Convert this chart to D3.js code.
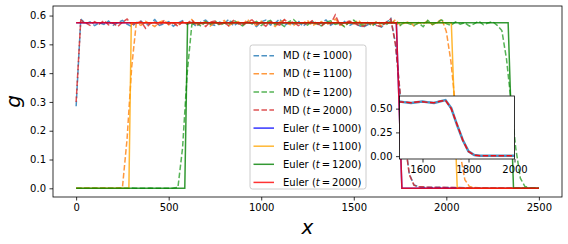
<!DOCTYPE html>
<html><head><meta charset="utf-8">
<script src="https://cdn.jsdelivr.net/npm/d3@7"></script>
<style>
html,body{margin:0;padding:0;background:#fff;}
svg text{font-family:"DejaVu Sans",sans-serif;}
</style></head>
<body><svg id="c" width="568" height="244"></svg>
<script>
// ---- data ----
const mdX = d3.range(0, 2525, 25); // MD grid positions x = 0..2500
const md1000 = [
0.285,0.588,0.571,0.578,0.565,0.575,0.569,0.581,0.566,0.576,
0.583,0.570,0.562,0.575,0.581,0.568,0.573,0.586,0.566,0.571,
0.579,0.563,0.574,0.582,0.569,0.577,0.561,0.578,0.584,0.570,
0.566,0.577,0.572,0.587,0.564,0.575,0.569,0.581,0.573,0.562,
0.578,0.584,0.567,0.574,0.588,0.565,0.576,0.570,0.582,0.563,
0.575,0.579,0.568,0.574,0.585,0.566,0.577,0.571,0.580,0.564,
0.574,0.566,0.560,0.568,0.574,0.566,0.560,0.575,0.590,0.505,
0.330,0.170,0.050,0.012,0.005,0.004,0.004,0.003,0.004,0.003,
0.003,0.003,0.002,0.003,0.002,0.002,0.002,0.001,0.002,0.001,
0.001,0.001,0.001,0.001,0.001,0.001,0.001,0.000,0.001,0.000,
0.000];
const md1100 = [
0.000,0.000,0.000,0.001,0.000,0.000,0.001,0.000,0.000,0.001,
0.002,0.170,0.420,0.574,0.566,0.580,0.571,0.562,0.577,0.583,
0.568,0.574,0.565,0.579,0.571,0.586,0.567,0.573,0.580,0.564,
0.576,0.570,0.583,0.565,0.574,0.579,0.568,0.587,0.572,0.566,
0.580,0.569,0.575,0.562,0.578,0.584,0.570,0.566,0.577,0.573,
0.583,0.565,0.572,0.579,0.568,0.575,0.588,0.569,0.563,0.577,
0.571,0.584,0.566,0.575,0.569,0.580,0.563,0.576,0.572,0.585,
0.567,0.574,0.579,0.564,0.576,0.571,0.582,0.568,0.575,0.588,
0.545,0.440,0.280,0.120,0.030,0.006,0.003,0.002,0.002,0.001,
0.001,0.001,0.001,0.000,0.001,0.000,0.000,0.000,0.000,0.000,
0.000];
const md1200 = [
0.000,0.000,0.000,0.000,0.001,0.000,0.000,0.000,0.000,0.000,
0.000,0.000,0.001,0.000,0.000,0.000,0.001,0.000,0.000,0.000,
0.000,0.001,0.003,0.140,0.400,0.568,0.575,0.563,0.579,0.570,
0.582,0.566,0.574,0.569,0.585,0.572,0.564,0.578,0.571,0.580,
0.565,0.577,0.583,0.568,0.573,0.562,0.579,0.586,0.570,0.575,
0.567,0.580,0.571,0.564,0.577,0.582,0.569,0.574,0.561,0.578,
0.584,0.570,0.566,0.576,0.563,0.579,0.572,0.568,0.581,0.574,
0.565,0.578,0.571,0.566,0.574,0.561,0.583,0.569,0.576,0.585,
0.572,0.566,0.578,0.570,0.575,0.563,0.571,0.581,0.568,0.574,
0.579,0.566,0.548,0.450,0.300,0.140,0.035,0.006,0.002,0.001,
0.000];
const md2000 = [
0.300,0.584,0.575,0.566,0.579,0.570,0.583,0.568,0.574,0.562,
0.577,0.588,0.569,0.573,0.580,0.556,0.572,0.578,0.565,0.582,
0.570,0.575,0.563,0.579,0.572,0.585,0.567,0.574,0.562,0.578,
0.581,0.569,0.576,0.564,0.583,0.572,0.566,0.579,0.585,0.570,
0.574,0.563,0.580,0.571,0.567,0.586,0.573,0.578,0.565,0.575,
0.568,0.582,0.574,0.563,0.579,0.571,0.602,0.567,0.576,0.581,
0.573,0.567,0.562,0.570,0.573,0.565,0.562,0.577,0.588,0.500,
0.335,0.168,0.048,0.011,0.005,0.005,0.004,0.004,0.003,0.004,
0.003,0.003,0.003,0.002,0.002,0.002,0.001,0.002,0.001,0.001,
0.001,0.001,0.001,0.000,0.001,0.000,0.001,0.000,0.000,0.000,
0.000];
const euler1000X = [0, 1730, 1760, 2500];
const euler1000G = [0.575, 0.575, 0, 0];
const euler1100X = [0, 285, 298, 2027, 2059, 2500];
const euler1100G = [0, 0, 0.575, 0.575, 0, 0];
const euler1200X = [0, 587, 602, 2334, 2363, 2500];
const euler1200G = [0, 0, 0.575, 0.575, 0, 0];
const euler2000X = [0, 1730, 1760, 2500];
const euler2000G = [0.575, 0.575, 0, 0];
const xTicks = [0, 500, 1000, 1500, 2000, 2500];
const yTicks = [0, 0.1, 0.2, 0.3, 0.4, 0.5, 0.6];
const insetXTicks = [1600, 1800, 2000];
const insetYTicks = [0, 0.25, 0.5];
const legendTimes = ["1000", "1100", "1200", "2000"];

// ---- drawing ----
const svg = d3.select("#c");
const L = 53, R = 562, T = 6, B = 197;
const x = d3.scaleLinear().domain([-125, 2625]).range([L, R]);
const y = d3.scaleLinear().domain([-0.0302, 0.6332]).range([B, T]);

const defs = svg.append("defs");
defs.append("clipPath").attr("id", "mainclip").append("rect")
  .attr("x", L).attr("y", T).attr("width", R - L).attr("height", B - T);

const pts = (xs, gs) => xs.map((v, i) => [v, gs[i]]);
const lineMain = d3.line().x(d => x(d[0])).y(d => y(d[1]));

const mdSeries = [
  {d: md1000, c: "#1f77b4"}, {d: md1100, c: "#ff7f0e"},
  {d: md1200, c: "#2ca02c"}, {d: md2000, c: "#d62728"}];
const euSeries = [
  {x: euler1000X, g: euler1000G, c: "#0000ff"},
  {x: euler1100X, g: euler1100G, c: "#ffa500"},
  {x: euler1200X, g: euler1200G, c: "#008000"},
  {x: euler2000X, g: euler2000G, c: "#ff0000"}];

const plot = svg.append("g").attr("clip-path", "url(#mainclip)");
mdSeries.forEach(s => {
  plot.append("path").datum(pts(mdX, s.d)).attr("d", lineMain)
    .attr("fill", "none").attr("stroke", s.c).attr("stroke-opacity", 0.8)
    .attr("stroke-width", 1.5).attr("stroke-dasharray", "5.55,2.4");
});
euSeries.forEach(s => {
  plot.append("path").datum(pts(s.x, s.g)).attr("d", lineMain)
    .attr("fill", "none").attr("stroke", s.c).attr("stroke-opacity", 0.8)
    .attr("stroke-width", 1.5);
});

// axes
function styleAxis(g) {
  g.select(".domain").remove();
  g.selectAll(".tick line").attr("stroke", "#000").attr("stroke-width", 0.8);
  g.selectAll(".tick text").attr("fill", "#000").style("font-size", "10px")
    .style("font-family", "DejaVu Sans");
}
svg.append("g").attr("transform", `translate(0,${B})`)
  .call(d3.axisBottom(x).tickValues(xTicks).tickSize(3.5).tickPadding(3.5).tickFormat(d3.format("d")))
  .call(styleAxis);
svg.append("g").attr("transform", `translate(${L},0)`)
  .call(d3.axisLeft(y).tickValues(yTicks).tickSize(3.5).tickPadding(3.5).tickFormat(d3.format(".1f")))
  .call(styleAxis);
svg.append("rect").attr("x", L).attr("y", T).attr("width", R - L).attr("height", B - T)
  .attr("fill", "none").attr("stroke", "#000").attr("stroke-width", 0.8);

svg.append("text").attr("x", (L + R) / 2).attr("y", 234).attr("text-anchor", "middle")
  .style("font-size", "20px").style("font-style", "italic").text("x");
svg.append("text").attr("transform", `translate(20,${(T + B) / 2}) rotate(-90)`)
  .attr("text-anchor", "middle").style("font-size", "20px").style("font-style", "italic").text("g");

// legend
const lg = svg.append("g");
lg.append("rect").attr("x", 250).attr("y", 45).attr("width", 116).attr("height", 144)
  .attr("rx", 2.5).attr("fill", "#fff").attr("fill-opacity", 0.8)
  .attr("stroke", "#cccccc").attr("stroke-width", 1);
const entries = [];
mdSeries.forEach((s, i) => entries.push({lab: "MD", t: legendTimes[i], c: s.c, dash: true}));
euSeries.forEach((s, i) => entries.push({lab: "Euler", t: legendTimes[i], c: s.c, dash: false}));
entries.forEach((e, i) => {
  const cy = 55.7 + i * 18.1;
  lg.append("line").attr("x1", 253.5).attr("x2", 274).attr("y1", cy).attr("y2", cy)
    .attr("stroke", e.c).attr("stroke-opacity", 0.8).attr("stroke-width", 1.5)
    .attr("stroke-dasharray", e.dash ? "5.55,2.4" : null);
  const t = lg.append("text").attr("x", 283).attr("y", cy).attr("dy", "0.36em")
    .style("font-size", "10px").attr("fill", "#000");
  t.append("tspan").text(e.lab + " (");
  t.append("tspan").style("font-style", "italic").text("t");
  t.append("tspan").text("\u2009=\u2009" + e.t + ")");
});

// inset
const iL = 399.5, iR = 514.5, iT = 96, iB = 159;
const xi = d3.scaleLinear().domain([1500, 2000]).range([iL, iR]);
const yi = d3.scaleLinear().domain([-0.03, 0.633]).range([iB, iT]);
defs.append("clipPath").attr("id", "insetclip").append("rect")
  .attr("x", iL).attr("y", iT).attr("width", iR - iL).attr("height", iB - iT);
svg.append("rect").attr("x", iL).attr("y", iT).attr("width", iR - iL).attr("height", iB - iT)
  .attr("fill", "#fff");
const lineInset = d3.line().x(d => xi(d[0])).y(d => yi(d[1]));
const ip = svg.append("g").attr("clip-path", "url(#insetclip)");
ip.append("path").datum(pts(mdX, md1000)).attr("d", lineInset).attr("fill", "none")
  .attr("stroke", "#1f77b4").attr("stroke-opacity", 0.8).attr("stroke-width", 2.5);
ip.append("path").datum(pts(mdX, md2000)).attr("d", lineInset).attr("fill", "none")
  .attr("stroke", "#ff0000").attr("stroke-opacity", 0.9).attr("stroke-width", 1.5)
  .attr("stroke-dasharray", "5.55,2.4");
svg.append("g").attr("transform", `translate(0,${iB})`)
  .call(d3.axisBottom(xi).tickValues(insetXTicks).tickSize(3.5).tickPadding(3.5).tickFormat(d3.format("d")))
  .call(styleAxis);
svg.append("g").attr("transform", `translate(${iL},0)`)
  .call(d3.axisLeft(yi).tickValues(insetYTicks).tickSize(3.5).tickPadding(3.5).tickFormat(d3.format(".2f")))
  .call(styleAxis);
svg.append("rect").attr("x", iL).attr("y", iT).attr("width", iR - iL).attr("height", iB - iT)
  .attr("fill", "none").attr("stroke", "#000").attr("stroke-width", 0.8);
</script></body></html>
